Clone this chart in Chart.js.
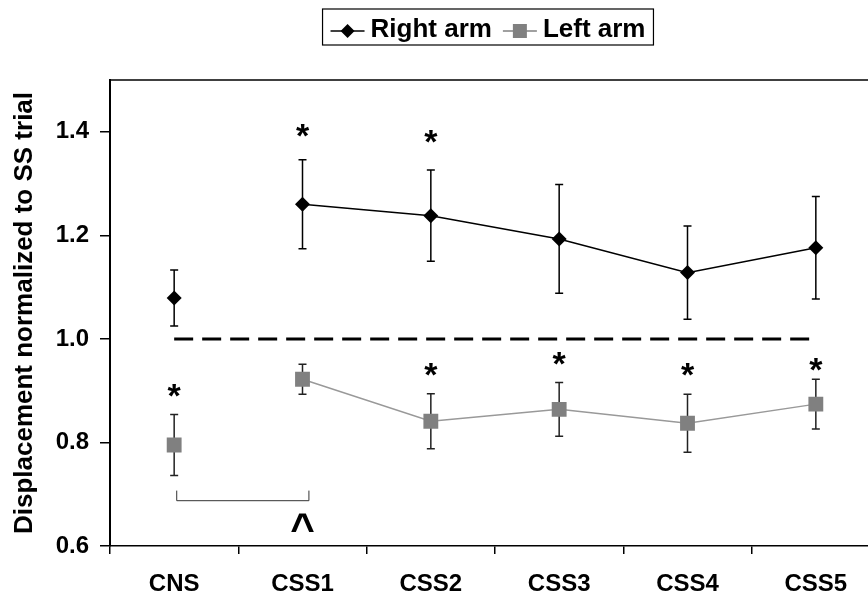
<!DOCTYPE html>
<html lang="en">
<head>
<meta charset="UTF-8">
<title>Displacement normalized to SS trial</title>
<script src="https://cdn.jsdelivr.net/npm/chart.js@4.4.1/dist/chart.umd.min.js"></script>
<style>
    html, body { margin: 0; padding: 0; overflow: hidden; background: #fff; }
    #wrap { width: 900px; height: 598px; position: relative; }
</style>
</head>
<body>
<div id="wrap"><canvas id="myChart"></canvas></div>
<script>
// data
const categories = ['CNS', 'CSS1', 'CSS2', 'CSS3', 'CSS4', 'CSS5'];
const rightArm = [1.079, 1.260, 1.238, 1.193, 1.128, 1.176];
const rightErr = [0.054, 0.086, 0.088, 0.105, 0.090, 0.099];
const leftArm = [0.795, 0.922, 0.841, 0.864, 0.837, 0.874];
const leftErr = [0.059, 0.029, 0.053, 0.052, 0.056, 0.048];
const refLine = [1, 1, 1, 1, 1, 1];
const yTicks = [0.6, 0.8, 1.0, 1.2, 1.4];
// significance marks: [category index, y value]
const starsRight = [[1, 1.408], [2, 1.396]];
const starsLeft = [[0, 0.906], [2, 0.946], [3, 0.967], [4, 0.946], [5, 0.956]];
// CNS vs CSS1 bracket
const bracketFrom = 0.02, bracketTo = 1.05, bracketY = 0.6875, bracketTip = 0.707;
const caretAt = 1.0, caretY = 0.65;

const FONT = '"Liberation Sans", Arial, sans-serif';
const GREY = '#808080';

const errorBars = {
    id: 'errorBars',
    beforeDatasetsDraw(chart) {
        const xs = chart.scales.x, ys = chart.scales.y, c = chart.ctx;
        const sets = [[rightArm, rightErr, '#000'], [leftArm, leftErr, '#222']];
        c.save();
        c.lineWidth = 1.5;
        sets.forEach(function (s) {
            c.strokeStyle = s[2];
            s[0].forEach(function (v, i) {
                const px = xs.getPixelForValue(i);
                const top = ys.getPixelForValue(v + s[1][i]);
                const bot = ys.getPixelForValue(v - s[1][i]);
                c.beginPath();
                c.moveTo(px, top); c.lineTo(px, bot);
                c.moveTo(px - 4, top); c.lineTo(px + 4, top);
                c.moveTo(px - 4, bot); c.lineTo(px + 4, bot);
                c.stroke();
            });
        });
        c.restore();
    }
};

const marks = {
    id: 'marks',
    afterDraw(chart) {
        const xs = chart.scales.x, ys = chart.scales.y, c = chart.ctx, a = chart.chartArea;
        c.save();
        // top frame line
        c.strokeStyle = '#000';
        c.lineWidth = 1.5;
        c.beginPath();
        c.moveTo(a.left, a.top); c.lineTo(a.right + 20, a.top);
        c.stroke();

        // asterisks
        c.fillStyle = '#000';
        c.font = 'bold 34px ' + FONT;
        c.textAlign = 'center';
        c.textBaseline = 'alphabetic';
        starsRight.concat(starsLeft).forEach(function (s) {
            c.fillText('*', xs.getPixelForValue(s[0]), ys.getPixelForValue(s[1]) + 19);
        });

        // bracket
        c.strokeStyle = '#333';
        c.lineWidth = 1;
        const x0 = xs.getPixelForValue(bracketFrom), x1 = xs.getPixelForValue(bracketTo);
        const yb = ys.getPixelForValue(bracketY), yt = ys.getPixelForValue(bracketTip);
        c.beginPath();
        c.moveTo(x0, yt); c.lineTo(x0, yb); c.lineTo(x1, yb); c.lineTo(x1, yt);
        c.stroke();
        c.font = 'bold 42px ' + FONT;
        c.fillText('^', xs.getPixelForValue(caretAt), ys.getPixelForValue(caretY) + 23);

        // legend
        c.font = 'bold 26px ' + FONT;
        const items = [
            {text: 'Right arm', color: '#000', shape: 'diamond'},
            {text: 'Left arm', color: GREY, shape: 'square'}
        ];
        const pad = 8, lineW = 34, gap = 6, itemGap = 11;
        let total = pad * 2 + itemGap;
        items.forEach(function (it) { it.w = c.measureText(it.text).width; total += lineW + gap + it.w; });
        const boxTop = 9, boxH = 36, midX = 488;
        let x = midX - total / 2;
        c.strokeStyle = '#000';
        c.lineWidth = 1.2;
        c.strokeRect(x, boxTop, total, boxH);
        x += pad;
        const my = boxTop + 22;
        items.forEach(function (it) {
            c.strokeStyle = it.color;
            c.lineWidth = 1.5;
            c.beginPath(); c.moveTo(x, my); c.lineTo(x + lineW, my); c.stroke();
            c.fillStyle = it.color;
            const cx = x + lineW / 2;
            if (it.shape === 'diamond') {
                c.beginPath();
                c.moveTo(cx, my - 7); c.lineTo(cx + 7, my); c.lineTo(cx, my + 7); c.lineTo(cx - 7, my);
                c.closePath(); c.fill();
            } else {
                c.fillRect(cx - 7, my - 7, 14, 14);
            }
            x += lineW + gap;
            c.fillStyle = '#000';
            c.textAlign = 'left';
            c.fillText(it.text, x, boxTop + 28);
            x += it.w + itemGap;
        });
        c.restore();
    }
};

const ctx = document.getElementById('myChart').getContext('2d');
const myChart = new Chart(ctx, {
    type: 'line',
    data: {
        labels: categories,
        datasets: [{
            label: 'SS level',
            data: refLine,
            borderColor: '#000',
            borderWidth: 3,
            borderDash: [19, 9],
            pointRadius: 0,
            fill: false
        }, {
            label: 'Right arm',
            data: rightArm,
            borderColor: '#000',
            backgroundColor: '#000',
            borderWidth: 1.5,
            pointStyle: 'rectRot',
            pointRadius: 7.5,
            pointBorderWidth: 0,
            segment: {
                borderColor: function (s) { return s.p0DataIndex === 0 ? 'rgba(0,0,0,0)' : '#000'; }
            }
        }, {
            label: 'Left arm',
            data: leftArm,
            borderColor: '#999',
            backgroundColor: GREY,
            borderWidth: 1.5,
            pointStyle: 'rect',
            pointRadius: 10.5,
            pointBorderWidth: 0,
            segment: {
                borderColor: function (s) { return s.p0DataIndex === 0 ? 'rgba(0,0,0,0)' : '#999'; }
            }
        }]
    },
    options: {
        responsive: true,
        maintainAspectRatio: false,
        animation: false,
        events: [],
        layout: { padding: { top: 80, right: 20, left: 0, bottom: 0 } },
        plugins: { legend: { display: false }, tooltip: { enabled: false } },
        scales: {
            x: {
                type: 'category',
                offset: true,
                grid: { offset: true, drawOnChartArea: false, tickLength: 8, color: '#000', lineWidth: 1.5 },
                border: { color: '#000', width: 1.5 },
                ticks: { color: '#000', padding: 16, font: { family: FONT, size: 24, weight: 'bold' } },
                afterFit: function (s) { s.height = 52; }
            },
            y: {
                min: 0.6,
                max: 1.5,
                afterBuildTicks: function (s) { s.ticks = yTicks.map(function (v) { return {value: v}; }); },
                grid: { drawOnChartArea: false, tickLength: 10, color: '#000', lineWidth: 1.5 },
                border: { color: '#000', width: 2 },
                ticks: {
                    color: '#000', padding: 11,
                    font: { family: FONT, size: 24, weight: 'bold' },
                    callback: function (v) { return Number(v).toFixed(1); }
                },
                title: {
                    display: true,
                    text: 'Displacement normalized to SS trial',
                    color: '#000',
                    padding: { top: 9, bottom: 0 },
                    font: { family: FONT, size: 26, weight: 'bold' }
                },
                afterFit: function (s) { s.width = 110; }
            }
        }
    },
    plugins: [errorBars, marks]
});
</script>
</body>
</html>
